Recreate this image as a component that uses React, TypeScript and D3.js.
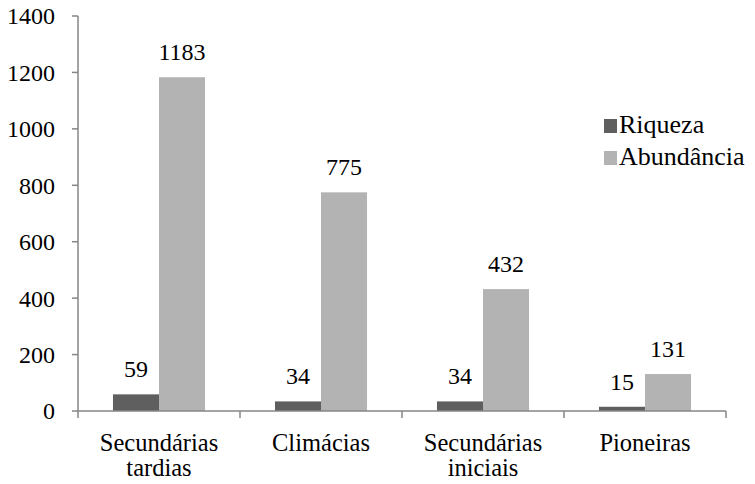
import * as d3 from 'd3';
import type { ReactNode } from 'react';

const categories = [['Secundárias', 'tardias'], ['Climácias'], ['Secundárias', 'iniciais'], ['Pioneiras']];
const seriesNames = ['Riqueza', 'Abundância'];
const riqueza = [59, 34, 34, 15];
const abundancia = [1183, 775, 432, 131];
const yTicks = [0, 200, 400, 600, 800, 1000, 1200, 1400];
const colors = ['#5f5f5f', '#b3b3b3'];

const W = 755;
const H = 484;
const axisColor = '#868686';
const FONT = '"Liberation Serif", "Times New Roman", serif';

// text drawn at half size and scaled up 2x (keeps the serif face at large sizes)
function Label({ x, y, size, anchor = 'start', dy, children }:
  { x: number; y: number; size: number; anchor?: string; dy?: string; children: ReactNode }) {
  return (
    <g transform={`translate(${x},${y}) scale(2)`}>
      <text x={0} y={0} dy={dy} textAnchor={anchor} fontSize={size / 2} fontFamily={FONT} fill="#000">
        {children}
      </text>
    </g>
  );
}

export default function App() {
  const left = 78, right = 726, top = 16, bottom = 411;
  const keys = categories.map((_, i) => String(i));

  const y = d3.scaleLinear().domain([0, 1400]).range([bottom, top]);
  const x0 = d3.scaleBand().domain(keys).range([left, right]).padding(0);
  // two bars per group, centred with wide outer gaps
  const x1 = d3.scaleBand().domain(seriesNames).range([0, x0.bandwidth()])
    .paddingInner(0).paddingOuter(0.76);

  const values = [riqueza, abundancia];
  const edges = [...keys.map(k => x0(k)!), right];

  return (
    <svg width={W} height={H} style={{ position: 'absolute', left: 0, top: 0, display: 'block', background: '#fff', fontFamily: FONT }}>
      {/* bars + value labels */}
      {seriesNames.map((s, si) => (
        <g key={s}>
          {values[si].map((v, i) => {
            const bx = x0(keys[i])! + x1(s)!;
            return (
              <g key={i}>
                <rect x={bx} y={y(v)} width={x1.bandwidth()} height={bottom - y(v)} fill={colors[si]} />
                <Label x={bx + x1.bandwidth() / 2} y={y(v) - 17} size={24} anchor="middle">{v}</Label>
              </g>
            );
          })}
        </g>
      ))}

      {/* y axis */}
      <line x1={left} x2={left} y1={top} y2={bottom} stroke={axisColor} strokeWidth={1.5} />
      {yTicks.map(t => (
        <g key={t}>
          <line x1={left - 6} x2={left} y1={y(t)} y2={y(t)} stroke={axisColor} strokeWidth={1.5} />
          <Label x={55} y={y(t)} size={24} anchor="end" dy="0.35em">{t}</Label>
        </g>
      ))}

      {/* x axis */}
      <line x1={left} x2={right} y1={bottom} y2={bottom} stroke={axisColor} strokeWidth={1.5} />
      {edges.map(e => (
        <line key={e} x1={e} x2={e} y1={bottom} y2={bottom + 7} stroke={axisColor} strokeWidth={1.5} />
      ))}
      {categories.map((lines, i) =>
        lines.map((ln, li) => (
          <Label key={`${i}-${li}`} x={x0(keys[i])! + x0.bandwidth() / 2} y={451 + li * 25} size={24.5} anchor="middle">{ln}</Label>
        ))
      )}

      {/* legend */}
      {seriesNames.map((s, si) => (
        <g key={s}>
          <rect x={604} y={119 + si * 32} width={13} height={14} fill={colors[si]} />
          <Label x={619} y={133 + si * 32} size={26}>{s}</Label>
        </g>
      ))}
    </svg>
  );
}
